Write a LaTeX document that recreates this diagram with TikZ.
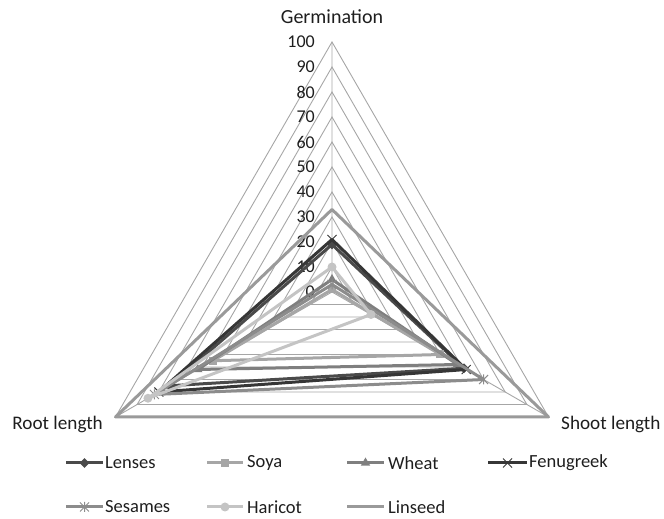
\documentclass[tikz,border=0pt]{standalone}
\usepackage{fontspec}
\setmainfont{Carlito}
\usetikzlibrary{shapes.geometric,calc}
\definecolor{gridgray}{HTML}{A6A6A6}
\definecolor{textgray}{HTML}{1E1E1E}
\definecolor{cLen}{HTML}{4A4A4A}
\definecolor{cSoy}{HTML}{A6A6A6}
\definecolor{cWhe}{HTML}{7F7F7F}
\definecolor{cFen}{HTML}{363636}
\definecolor{cSes}{HTML}{8C8C8C}
\definecolor{cHar}{HTML}{C4C4C4}
\definecolor{cLin}{HTML}{9A9A9A}
\begin{document}
\begin{tikzpicture}[x=1pt,y=1pt,
  gridline/.style={draw=gridgray, line width=0.9pt},
  ticklab/.style={anchor=east, font=\fontsize{18}{20}\selectfont, text=textgray, inner sep=0pt},
  axlab/.style={font=\fontsize{20}{23}\selectfont, text=textgray, inner sep=0pt},
  sidelab/.style={font=\fontsize{19.2}{22}\selectfont, text=textgray, inner sep=0pt},
  leglab/.style={anchor=west, font=\fontsize{18.5}{21}\selectfont, text=textgray, inner sep=0pt},
  serline/.style={line width=3pt, line join=round},
  lenline/.style={serline, draw=cLen},
  soyline/.style={serline, draw=cSoy},
  wheline/.style={serline, draw=cWhe},
  fenline/.style={serline, draw=cFen},
  sesline/.style={serline, draw=cSes},
  harline/.style={serline, draw=cHar},
  linline/.style={serline, draw=cLin},
  lenmark/.style={diamond, fill=cLen, minimum size=10pt, inner sep=0pt},
  soymark/.style={rectangle, fill=cSoy, minimum size=8pt, inner sep=0pt},
  whemark/.style={regular polygon, regular polygon sides=3, fill=cWhe, minimum size=11pt, inner sep=0pt},
  harmark/.style={circle, fill=cHar, minimum size=9pt, inner sep=0pt},
  fenmark/.pic={\draw[cFen, line width=1pt] (-4.5,-4.5)--(4.5,4.5) (-4.5,4.5)--(4.5,-4.5);},
  sesmark/.pic={\draw[cSes, line width=1pt] (-4.5,-4.5)--(4.5,4.5) (-4.5,4.5)--(4.5,-4.5) (0,-5)--(0,5);}
]
\useasboundingbox (0,0) rectangle (664,519);
\begin{scope}[shift={(332,227)}]
  \foreach \v in {10,20,...,100}{
    \draw[gridline] (90:{2.5*\v}) -- (-30:{2.5*\v}) -- (210:{2.5*\v}) -- cycle;
  }
  \coordinate (C) at (0,0);
  \coordinate (vG) at (90:250);
  \coordinate (vS) at (-30:250);
  \coordinate (vR) at (210:250);
  \draw[gridline] (C) -- (vG) (C) -- (vS) (C) -- (vR);
  \foreach \v in {0,10,...,100}{
    \node[ticklab] (t\v) at (-17,{2.5*\v}) {\v};
  }
  \node[axlab] (lG) at (0,275) {Germination};
  \node[sidelab, anchor=west] (lS) at (229,-132) {Shoot length};
  \node[sidelab, anchor=east] (lR) at (-229,-132) {Root length};
  \coordinate (lenG) at (90:{2.5*19}); \coordinate (lenS) at (-30:{2.5*61}); \coordinate (lenR) at (210:{2.5*75});
  \draw[lenline] (lenG) -- (lenS) -- (lenR) -- cycle;
  \foreach \p in {G,S,R}{\node[lenmark] (lenm\p) at (len\p) {};}
  \coordinate (soyG) at (90:{2.5*1}); \coordinate (soyS) at (-30:{2.5*50}); \coordinate (soyR) at (210:{2.5*55});
  \draw[soyline] (soyG) -- (soyS) -- (soyR) -- cycle;
  \foreach \p in {G,S,R}{\node[soymark] (soym\p) at (soy\p) {};}
  \coordinate (wheG) at (90:{2.5*5}); \coordinate (wheS) at (-30:{2.5*58}); \coordinate (wheR) at (210:{2.5*62});
  \draw[wheline] (wheG) -- (wheS) -- (wheR) -- cycle;
  \foreach \p in {G,S,R}{\node[whemark] (whem\p) at (whe\p) {};}
  \coordinate (fenG) at (90:{2.5*21}); \coordinate (fenS) at (-30:{2.5*62}); \coordinate (fenR) at (210:{2.5*80});
  \draw[fenline] (fenG) -- (fenS) -- (fenR) -- cycle;
  \foreach \p in {G,S,R}{\pic (fenm\p) at (fen\p) {fenmark};}
  \coordinate (sesG) at (90:{2.5*3}); \coordinate (sesS) at (-30:{2.5*70}); \coordinate (sesR) at (210:{2.5*82});
  \draw[sesline] (sesG) -- (sesS) -- (sesR) -- cycle;
  \foreach \p in {G,S,R}{\pic (sesm\p) at (ses\p) {sesmark};}
  \coordinate (harG) at (90:{2.5*10}); \coordinate (harS) at (-30:{2.5*18}); \coordinate (harR) at (210:{2.5*85});
  \draw[harline] (harG) -- (harS) -- (harR) -- cycle;
  \foreach \p in {G,S,R}{\node[harmark] (harm\p) at (har\p) {};}
  \coordinate (linG) at (90:{2.5*33}); \coordinate (linS) at (-30:{2.5*100}); \coordinate (linR) at (210:{2.5*100});
  \draw[linline] (linG) -- (linS) -- (linR) -- cycle;
\end{scope}
\coordinate (a1) at (66,56); \coordinate (b1) at (103,56);
\draw[lenline] (a1) -- (b1); \node[lenmark] (m1) at ($(a1)!0.5!(b1)$) {}; \node[leglab] (g1) at (105,56) {Lenses};
\coordinate (a2) at (207,56); \coordinate (b2) at (243,56);
\draw[soyline] (a2) -- (b2); \node[soymark] (m2) at ($(a2)!0.5!(b2)$) {}; \node[leglab] (g2) at (247,56) {Soya};
\coordinate (a3) at (347,56); \coordinate (b3) at (384,56);
\draw[wheline] (a3) -- (b3); \node[whemark] (m3) at ($(a3)!0.5!(b3)$) {}; \node[leglab] (g3) at (388,56) {Wheat};
\coordinate (a4) at (488,56); \coordinate (b4) at (527,56);
\draw[fenline] (a4) -- (b4); \pic (m4) at ($(a4)!0.5!(b4)$) {fenmark}; \node[leglab] (g4) at (529,56) {Fenugreek};
\coordinate (a5) at (66,12); \coordinate (b5) at (103,12);
\draw[sesline] (a5) -- (b5); \pic (m5) at ($(a5)!0.5!(b5)$) {sesmark}; \node[leglab] (g5) at (105,12) {Sesames};
\coordinate (a6) at (207,12); \coordinate (b6) at (243,12);
\draw[harline] (a6) -- (b6); \node[harmark] (m6) at ($(a6)!0.5!(b6)$) {}; \node[leglab] (g6) at (247,12) {Haricot};
\coordinate (a7) at (347,12); \coordinate (b7) at (384,12);
\draw[linline] (a7) -- (b7); \node[leglab] (g7) at (388,12) {Linseed};
\end{tikzpicture}
\end{document}
